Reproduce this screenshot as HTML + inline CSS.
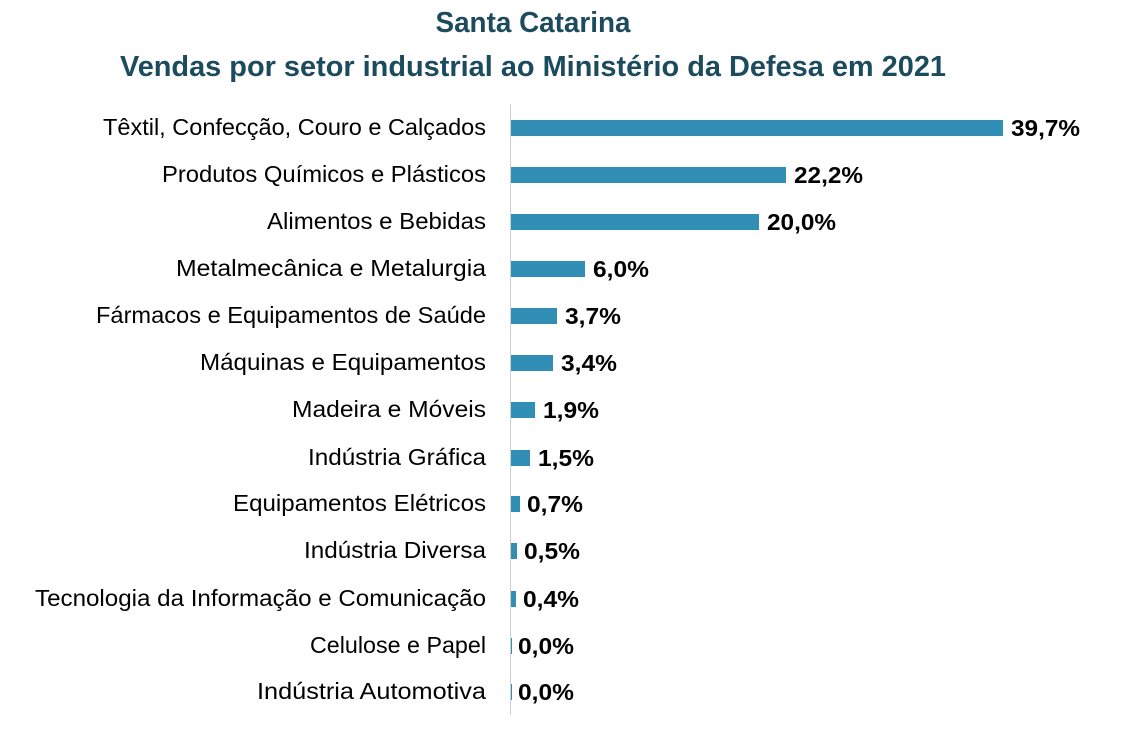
<!DOCTYPE html>
<html><head><meta charset="utf-8"><style>html,body{margin:0;padding:0;background:#fff}svg{display:block}</style></head>
<body>
<svg width="1134" height="756" viewBox="0 0 1134 756" xmlns="http://www.w3.org/2000/svg" font-family="Liberation Sans, sans-serif">
<text x="533" y="32" text-anchor="middle" font-size="29" font-weight="bold" fill="#1d4b5e" textLength="195" lengthAdjust="spacingAndGlyphs">Santa Catarina</text>
<text x="533" y="76" text-anchor="middle" font-size="29" font-weight="bold" fill="#1d4b5e" textLength="826" lengthAdjust="spacingAndGlyphs">Vendas por setor industrial ao Ministério da Defesa em 2021</text>
<line x1="510.5" y1="104" x2="510.5" y2="715" stroke="#d0d0d0" stroke-width="1"/>
<g font-size="23" fill="#000">
<text x="486" y="135" text-anchor="end" textLength="383" lengthAdjust="spacingAndGlyphs">Têxtil, Confecção, Couro e Calçados</text>
<text x="486" y="182" text-anchor="end" textLength="324" lengthAdjust="spacingAndGlyphs">Produtos Químicos e Plásticos</text>
<text x="486" y="229" text-anchor="end" textLength="219" lengthAdjust="spacingAndGlyphs">Alimentos e Bebidas</text>
<text x="486" y="276" text-anchor="end" textLength="310" lengthAdjust="spacingAndGlyphs">Metalmecânica e Metalurgia</text>
<text x="486" y="323" text-anchor="end" textLength="390" lengthAdjust="spacingAndGlyphs">Fármacos e Equipamentos de Saúde</text>
<text x="486" y="370" text-anchor="end" textLength="286" lengthAdjust="spacingAndGlyphs">Máquinas e Equipamentos</text>
<text x="486" y="417" text-anchor="end" textLength="194" lengthAdjust="spacingAndGlyphs">Madeira e Móveis</text>
<text x="486" y="465" text-anchor="end" textLength="178" lengthAdjust="spacingAndGlyphs">Indústria Gráfica</text>
<text x="486" y="511" text-anchor="end" textLength="253" lengthAdjust="spacingAndGlyphs">Equipamentos Elétricos</text>
<text x="486" y="558" text-anchor="end" textLength="182" lengthAdjust="spacingAndGlyphs">Indústria Diversa</text>
<text x="486" y="606" text-anchor="end" textLength="451" lengthAdjust="spacingAndGlyphs">Tecnologia da Informação e Comunicação</text>
<text x="486" y="653" text-anchor="end" textLength="176" lengthAdjust="spacingAndGlyphs">Celulose e Papel</text>
<text x="486" y="699" text-anchor="end" textLength="229" lengthAdjust="spacingAndGlyphs">Indústria Automotiva</text>
</g>
<g fill="#318fb5">
<rect x="511" y="120" width="492" height="16"/>
<rect x="511" y="167" width="275" height="16"/>
<rect x="511" y="214" width="248" height="16"/>
<rect x="511" y="261" width="74" height="16"/>
<rect x="511" y="308" width="46" height="16"/>
<rect x="511" y="355" width="42" height="16"/>
<rect x="511" y="402" width="24" height="16"/>
<rect x="511" y="450" width="19" height="16"/>
<rect x="511" y="496" width="9" height="16"/>
<rect x="511" y="543" width="6" height="16"/>
<rect x="511" y="591" width="5" height="16"/>
<rect x="511" y="638" width="1" height="16"/>
<rect x="511" y="684" width="1" height="16"/>
</g>
<g font-size="23" font-weight="bold" fill="#000">
<text x="1011" y="136" textLength="69" lengthAdjust="spacingAndGlyphs">39,7%</text>
<text x="794" y="183" textLength="69" lengthAdjust="spacingAndGlyphs">22,2%</text>
<text x="767" y="230" textLength="69" lengthAdjust="spacingAndGlyphs">20,0%</text>
<text x="593" y="277" textLength="56" lengthAdjust="spacingAndGlyphs">6,0%</text>
<text x="565" y="324" textLength="56" lengthAdjust="spacingAndGlyphs">3,7%</text>
<text x="561" y="371" textLength="56" lengthAdjust="spacingAndGlyphs">3,4%</text>
<text x="543" y="418" textLength="56" lengthAdjust="spacingAndGlyphs">1,9%</text>
<text x="538" y="466" textLength="56" lengthAdjust="spacingAndGlyphs">1,5%</text>
<text x="527" y="512" textLength="56" lengthAdjust="spacingAndGlyphs">0,7%</text>
<text x="524" y="559" textLength="56" lengthAdjust="spacingAndGlyphs">0,5%</text>
<text x="523" y="607" textLength="56" lengthAdjust="spacingAndGlyphs">0,4%</text>
<text x="518" y="654" textLength="56" lengthAdjust="spacingAndGlyphs">0,0%</text>
<text x="518" y="700" textLength="56" lengthAdjust="spacingAndGlyphs">0,0%</text>
</g>
</svg>
</body></html>
